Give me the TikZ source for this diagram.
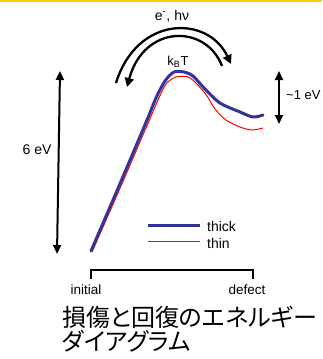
\documentclass[tikz,border=0pt]{standalone}
\usepackage{fontspec}
\setmainfont{Liberation Sans}
\newfontfamily\jpfont[RawFeature=+palt]{Noto Sans CJK JP}
\usetikzlibrary{arrows.meta}
\definecolor{gold}{RGB}{255,204,0}
\definecolor{navy}{RGB}{51,51,153}
\definecolor{redline}{RGB}{255,0,0}
\tikzset{
  lbl/.style={inner sep=0pt, font=\fontsize{14}{16}\selectfont},
  bigarrow/.style={line width=2pt, {Triangle[length=9pt,width=8pt]}-{Triangle[length=9pt,width=8pt]}},
  arcarrow/.style={line width=2.3pt, -{Triangle[length=9pt,width=9pt]}},
  thickcurve/.style={navy, line width=3pt, line join=round, line cap=round},
  thincurve/.style={redline, line width=1pt, line join=round},
  jplbl/.style={inner sep=0pt, anchor=west, font=\jpfont\fontsize{24}{28}\selectfont},
}
\begin{document}
\begin{tikzpicture}[x=1pt,y=-1pt]
\useasboundingbox (0,0) rectangle (322,359);
\fill[gold] (0,0) rectangle (322,1.6);

% labels
\node[lbl] (ehv) at (172,16) {e\textsuperscript{-}, hν};
\node[lbl, font=\fontsize{13}{15}\selectfont] (kbt) at (178,62) {k\textsubscript{B}T};
\node[lbl] (six) at (37,150) {6 eV};
\node[lbl, anchor=west, font=\fontsize{13}{15}\selectfont] (one) at (286,95) {\textasciitilde1 eV};

% curved arrows
\coordinate (o1) at (116,83);
\coordinate (o2) at (231,64);
\draw[arcarrow] (o1) .. controls (137,15) and (208,15) .. (o2);
\coordinate (i1) at (222,66);
\coordinate (i2) at (127,87);
\draw[arcarrow] (i1) .. controls (206,24) and (144,24) .. (i2);

% vertical arrows
\coordinate (sixtop) at (60,71);
\coordinate (sixbot) at (57,254);
\draw[bigarrow] (sixtop) -- (sixbot);
\coordinate (onetop) at (279,71);
\coordinate (onebot) at (279,124);
\draw[bigarrow] (onetop) -- (onebot);

% energy curves
\draw[thincurve] plot[smooth, tension=0.5] coordinates {(92,252) (121,186) (149,121) (158,100) (166,84) (176,77) (188,77) (197,84) (207,96) (215,109) (226,120) (240,127) (252,130) (263,128)};
\draw[thickcurve] plot[smooth, tension=0.5] coordinates {(91,251) (119,186) (147,120) (156,98) (165,81) (174,72) (184,72) (193,76) (205,89) (220,103) (240,112) (253,117) (263,115)};

% legend
\coordinate (lb1) at (148,225);
\coordinate (lb2) at (200,225);
\draw[thickcurve, line cap=butt] (lb1) -- (lb2);
\node[lbl, anchor=west] (thick) at (207,226) {thick};
\coordinate (lr1) at (148,241);
\coordinate (lr2) at (200,241);
\draw[thincurve] (lr1) -- (lr2);
\node[lbl, anchor=west] (thin) at (207,243) {thin};

% bracket
\coordinate (b1) at (91,279);
\coordinate (b2) at (91,270);
\coordinate (b3) at (253,270);
\coordinate (b4) at (253,279);
\draw[line width=1.1pt] (b1) -- (b2) -- (b3) -- (b4);
\node[lbl, font=\fontsize{13.5}{15}\selectfont] (initial) at (86,290) {initial};
\node[lbl, font=\fontsize{13.5}{15}\selectfont] (defect) at (247,290) {defect};

% Japanese caption
\node[jplbl] (cap1) at (62,317) {損傷と回復のエネルギー};
\node[jplbl] (cap2) at (62,341) {ダイアグラム};
\end{tikzpicture}
\end{document}
